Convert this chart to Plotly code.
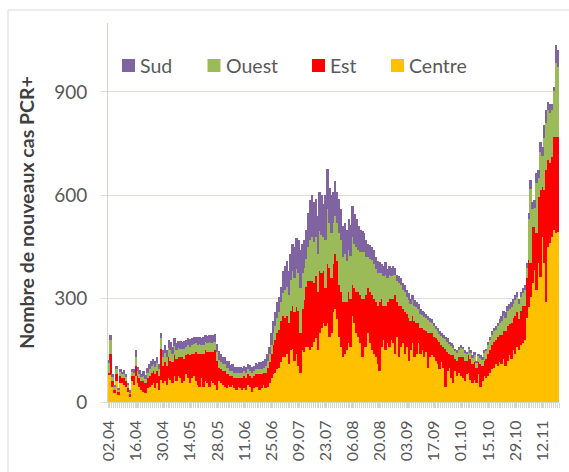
import pandas as pd
import plotly.graph_objects as go

# daily new PCR+ cases by region, 02.04 -> 20.11 (one row = one week)
START_DATE = "2020-04-02"

centre = [
    80, 78, 45, 25, 60, 20, 55,
    55, 50, 45, 30, 15, 60, 50,
    75, 55, 45, 35, 30, 25, 40,
    45, 50, 55, 40, 55, 35, 65,
    55, 60, 50, 70, 65, 55, 75,
    60, 75, 70, 55, 60, 80, 70,
    55, 70, 75, 60, 50, 45, 70,
    45, 60, 55, 45, 60, 55, 50,
    35, 60, 55, 50, 45, 40, 50,
    45, 50, 40, 35, 45, 40, 35,
    40, 35, 50, 45, 30, 40, 45,
    45, 35, 40, 50, 40, 45, 55,
    70, 80, 85, 95, 100, 115, 130,
    130, 140, 110, 150, 155, 120, 140,
    105, 85, 150, 145, 160, 160, 150,
    160, 175, 185, 150, 200, 215, 230,
    220, 230, 190, 200, 260, 270, 240,
    190, 160, 130, 140, 150, 170, 160,
    250, 230, 200, 190, 170, 130, 160,
    160, 200, 170, 150, 140, 130, 110,
    90, 160, 180, 150, 170, 160, 180,
    170, 140, 190, 130, 160, 170, 140,
    160, 120, 150, 170, 130, 140, 170,
    140, 150, 130, 145, 100, 130, 135,
    130, 120, 110, 95, 115, 100, 45,
    90, 100, 70, 55, 90, 75, 85,
    75, 70, 60, 80, 85, 65, 55,
    65, 55, 80, 45, 60, 75, 70,
    75, 85, 95, 100, 110, 105, 115,
    110, 125, 105, 120, 135, 125, 150,
    140, 160, 150, 165, 170, 180, 245,
    275, 305, 345, 383, 325, 403, 362,
    479, 403, 290, 450, 461, 479, 499,
    490, 493,
]

est = [
    5, 60, 15, 10, 20, 8, 20,
    15, 20, 15, 10, 8, 15, 25,
    30, 20, 25, 25, 30, 30, 30,
    30, 35, 35, 40, 35, 40, 90,
    50, 55, 55, 60, 55, 60, 60,
    65, 55, 60, 75, 65, 55, 70,
    80, 70, 65, 85, 90, 95, 70,
    95, 90, 90, 100, 85, 90, 100,
    85, 40, 40, 40, 45, 40, 30,
    30, 25, 30, 35, 25, 30, 35,
    35, 35, 30, 30, 40, 35, 35,
    35, 45, 40, 35, 45, 55, 60,
    70, 85, 95, 105, 110, 120, 120,
    115, 110, 120, 115, 125, 140, 135,
    160, 115, 120, 150, 175, 190, 200,
    190, 170, 180, 170, 180, 160, 150,
    110, 170, 200, 160, 140, 160, 170,
    150, 160, 160, 150, 140, 150, 140,
    90, 100, 120, 130, 140, 170, 140,
    150, 130, 150, 160, 160, 160, 170,
    200, 140, 100, 130, 120, 140, 120,
    130, 170, 100, 150, 120, 100, 120,
    95, 125, 85, 80, 105, 90, 60,
    75, 65, 80, 60, 100, 70, 65,
    60, 65, 70, 80, 50, 60, 110,
    55, 40, 65, 80, 35, 45, 45,
    55, 60, 60, 40, 50, 60, 55,
    50, 45, 35, 65, 45, 45, 55,
    65, 65, 70, 75, 70, 85, 80,
    85, 80, 100, 100, 90, 105, 95,
    110, 100, 90, 100, 110, 100, 115,
    137, 98, 164, 126, 165, 192, 253,
    145, 212, 382, 251, 234, 231, 269,
    278, 275,
]

ouest = [
    28, 42, 12, 8, 15, 6, 12,
    10, 12, 12, 8, 6, 12, 10,
    25, 15, 12, 12, 15, 12, 15,
    20, 20, 20, 22, 22, 20, 30,
    25, 28, 25, 28, 30, 25, 28,
    25, 28, 25, 25, 28, 25, 25,
    25, 25, 28, 25, 25, 28, 25,
    25, 25, 25, 28, 25, 28, 25,
    25, 22, 20, 20, 20, 18, 18,
    15, 15, 15, 15, 15, 15, 15,
    15, 15, 15, 15, 15, 15, 15,
    15, 15, 15, 15, 20, 20, 25,
    25, 35, 40, 45, 50, 55, 65,
    80, 85, 80, 90, 100, 100, 110,
    110, 130, 105, 95, 80, 100, 120,
    130, 120, 115, 110, 115, 110, 100,
    140, 160, 130, 130, 120, 110, 110,
    150, 150, 130, 140, 120, 120, 125,
    140, 130, 130, 120, 125, 135, 135,
    110, 90, 95, 102, 100, 95, 95,
    85, 75, 85, 90, 70, 70, 65,
    70, 60, 60, 65, 60, 55, 60,
    50, 50, 48, 45, 45, 45, 40,
    40, 37, 38, 38, 38, 33, 30,
    30, 27, 27, 23, 27, 27, 27,
    30, 27, 27, 23, 22, 22, 22,
    27, 23, 23, 18, 18, 18, 18,
    22, 15, 18, 18, 18, 22, 22,
    25, 30, 30, 30, 30, 30, 33,
    40, 45, 40, 45, 45, 45, 40,
    45, 45, 45, 40, 35, 45, 30,
    118, 215, 50, 55, 145, 55, 110,
    90, 150, 137, 146, 145, 137, 136,
    215, 204,
]

sud = [
    9, 14, 8, 7, 10, 6, 8,
    8, 10, 10, 6, 5, 8, 10,
    20, 12, 10, 10, 15, 12, 15,
    15, 15, 15, 18, 18, 15, 15,
    20, 22, 20, 22, 25, 20, 22,
    22, 20, 22, 20, 25, 20, 22,
    22, 20, 22, 20, 25, 20, 20,
    25, 20, 22, 22, 25, 22, 22,
    22, 25, 25, 22, 22, 22, 20,
    18, 20, 18, 18, 18, 18, 15,
    15, 18, 15, 18, 18, 15, 18,
    15, 20, 20, 20, 20, 20, 20,
    35, 35, 40, 45, 45, 45, 65,
    70, 75, 70, 75, 80, 90, 90,
    95, 110, 85, 80, 85, 100, 115,
    120, 115, 110, 110, 115, 115, 95,
    130, 115, 100, 110, 90, 100, 90,
    100, 90, 90, 90, 90, 90, 90,
    90, 85, 80, 70, 65, 60, 55,
    50, 40, 40, 38, 40, 35, 35,
    30, 25, 30, 35, 25, 25, 25,
    25, 20, 20, 20, 20, 20, 20,
    20, 20, 17, 15, 15, 15, 15,
    15, 13, 12, 12, 12, 12, 10,
    10, 8, 8, 7, 8, 8, 8,
    10, 8, 8, 7, 8, 8, 8,
    8, 7, 7, 7, 7, 7, 7,
    8, 5, 7, 7, 7, 8, 8,
    10, 10, 10, 10, 10, 10, 12,
    15, 15, 15, 15, 15, 15, 15,
    15, 15, 15, 15, 15, 15, 13,
    20, 25, 21, 22, 29, 22, 29,
    26, 38, 38, 23, 26, 19, 10,
    53, 49,
]

tick_dates = ["2020-04-02", "2020-04-16", "2020-04-30", "2020-05-14", "2020-05-28",
              "2020-06-11", "2020-06-25", "2020-07-09", "2020-07-23", "2020-08-06",
              "2020-08-20", "2020-09-03", "2020-09-17", "2020-10-01", "2020-10-15",
              "2020-10-29", "2020-11-12"]
tick_labels = ["02.04", "16.04", "30.04", "14.05", "28.05", "11.06", "25.06", "09.07",
               "23.07", "06.08", "20.08", "03.09", "17.09", "01.10", "15.10", "29.10", "12.11"]

dates = pd.date_range(START_DATE, periods=len(centre), freq="D").strftime("%Y-%m-%d").tolist()

W, H = 569, 472
L, R, T, B = 108, 10, 23, 70
TEXT = "#595959"
GRID = "#e0e0d6"
AXIS = "#d6d6c8"
FONT = "Lato"

series = [("Centre", centre, "#FFC000"),
          ("Est", est, "#FF0000"),
          ("Ouest", ouest, "#9BBB59"),
          ("Sud", sud, "#8064A2")]


def px_x(x):
    return (x - L) / (W - L - R)


def px_y(y):
    return (H - B - y) / (H - T - B)


fig = go.Figure()
for name, vals, color in series:
    fig.add_trace(go.Bar(x=dates, y=vals, name=name, marker_color=color,
                         marker_line_width=0, showlegend=False))

# legend drawn by hand, Excel style (small swatch hugging the label)
shapes = []
annotations = []
legend_x = {"Sud": 122, "Ouest": 207.5, "Est": 312, "Centre": 391}
colors = {name: color for name, _, color in series}
for name, x0 in legend_x.items():
    shapes.append(dict(type="rect", xref="paper", yref="paper",
                       x0=px_x(x0), x1=px_x(x0 + 13), y0=px_y(72), y1=px_y(59),
                       fillcolor=colors[name], line=dict(width=0)))
    annotations.append(dict(text=name, xref="paper", yref="paper", x=px_x(x0 + 16), y=px_y(65.5),
                            xanchor="left", yanchor="middle", showarrow=False,
                            font=dict(family=FONT, size=19.5, color=TEXT)))

# outer chart frame
shapes.append(dict(type="rect", xref="paper", yref="paper",
                   x0=px_x(8), x1=px_x(580), y0=px_y(490), y1=px_y(10),
                   line=dict(color="#d9d9d9", width=1), layer="below"))

fig.update_layout(
    width=W, height=H,
    barmode="stack", bargap=0,
    paper_bgcolor="white", plot_bgcolor="white",
    font=dict(family=FONT, size=19, color=TEXT),
    margin=dict(l=L, r=R, t=T, b=B),
    showlegend=False,
    xaxis=dict(type="date", automargin=False,
               range=["2020-04-01 12:00", "2020-11-20 12:00"],
               tickmode="array", tickvals=tick_dates, ticktext=tick_labels,
               tickangle=-90, tickfont=dict(size=16),
               ticks="outside", ticklen=5, tickcolor=AXIS,
               minor=dict(ticks="outside", ticklen=5, tickcolor=AXIS, dtick=86400000,
                          tick0="2020-04-01 12:00"),
               showline=True, linecolor=AXIS, showgrid=False, ticklabelstandoff=6),
    yaxis=dict(range=[0, 1100], tickvals=[0, 300, 600, 900], automargin=False,
               ticks="outside", ticklen=6, tickcolor=GRID,
               showline=True, linecolor=AXIS,
               gridcolor=GRID, zeroline=False, ticklabelstandoff=10,
               title=dict(text="<b>Nombre de nouveaux cas PCR+</b>",
                          font=dict(size=19.5, color="#404040"), standoff=14)),
    shapes=shapes,
    annotations=annotations,
)

# the page's default 8px body margin would push the figure off the window edge
fig.write_html("out.html", config={"displayModeBar": False},
               post_script="document.body.style.margin = '0';")
